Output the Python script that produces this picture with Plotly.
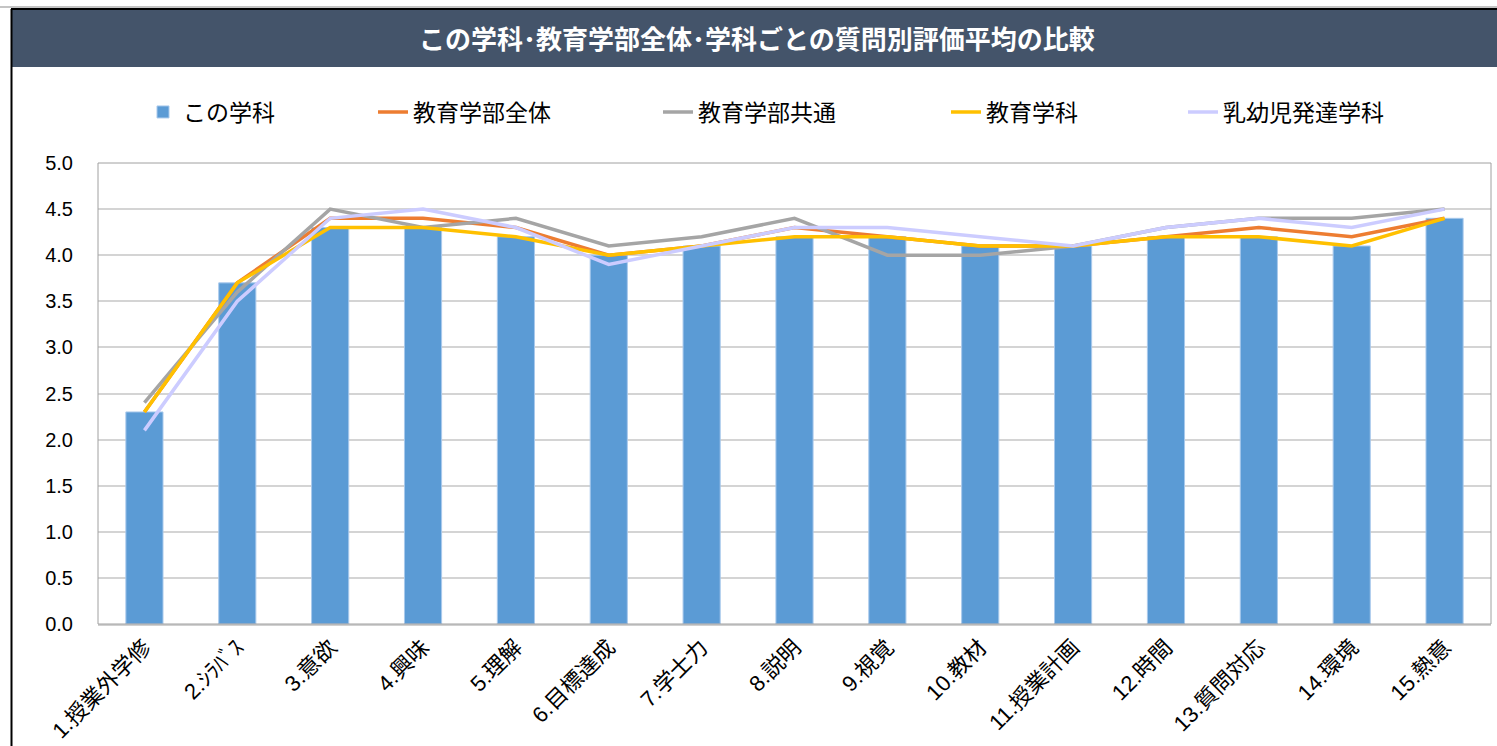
import plotly.graph_objects as go

categories = ["1.授業外学修", "2.ｼﾗﾊﾞｽ", "3.意欲", "4.興味", "5.理解", "6.目標達成", "7.学士力",
              "8.説明", "9.視覚", "10.教材", "11.授業計画", "12.時間", "13.質問対応", "14.環境", "15.熱意"]

this_dept = [2.3, 3.7, 4.3, 4.3, 4.2, 4.0, 4.1, 4.2, 4.2, 4.1, 4.1, 4.2, 4.2, 4.1, 4.4]
faculty_all = [2.3, 3.7, 4.4, 4.4, 4.3, 4.0, 4.1, 4.3, 4.2, 4.1, 4.1, 4.2, 4.3, 4.2, 4.4]
faculty_common = [2.4, 3.6, 4.5, 4.3, 4.4, 4.1, 4.2, 4.4, 4.0, 4.0, 4.1, 4.3, 4.4, 4.4, 4.5]
education = [2.3, 3.7, 4.3, 4.3, 4.2, 4.0, 4.1, 4.2, 4.2, 4.1, 4.1, 4.2, 4.2, 4.1, 4.4]
early_child = [2.1, 3.5, 4.4, 4.5, 4.3, 3.9, 4.1, 4.3, 4.3, 4.2, 4.1, 4.3, 4.4, 4.3, 4.5]

series_names = ["この学科", "教育学部全体", "教育学部共通", "教育学科", "乳幼児発達学科"]
y_ticks = [0.0, 0.5, 1.0, 1.5, 2.0, 2.5, 3.0, 3.5, 4.0, 4.5, 5.0]
title_text = "この学科･教育学部全体･学科ごとの質問別評価平均の比較"

W, H = 1497, 746
L, R, T, B = 98, 6, 163, 122
PW, PH = W - L - R, H - T - B

def px_x(px):
    return (px - L) / PW

def px_y(py):
    return (H - B - py) / PH

JP = "Noto Sans CJK JP"
fig = go.Figure()

fig.add_trace(go.Bar(
    x=categories, y=this_dept, name=series_names[0],
    marker=dict(color="#5B9BD5", line=dict(color="#a9c9ec", width=1)),
    legend="legend",
))

line_specs = [
    (faculty_all, series_names[1], "#ED7D31", "legend2"),
    (faculty_common, series_names[2], "#A5A5A5", "legend3"),
    (education, series_names[3], "#FFC000", "legend4"),
    (early_child, series_names[4], "#CCCCFF", "legend5"),
]
for vals, name, color, lg in line_specs:
    fig.add_trace(go.Scatter(
        x=categories, y=vals, name=name, mode="lines",
        line=dict(color=color, width=3.5),
        legend=lg,
    ))

text_starts = [185, 415, 700, 988, 1225]
legend_common = dict(orientation="h", yanchor="middle", xanchor="left",
                      bgcolor="rgba(0,0,0,0)", font=dict(family=JP, size=23, color="#000000"),
                      itemwidth=30)
legends = {}
for i, ts in enumerate(text_starts):
    key = "legend" if i == 0 else f"legend{i+1}"
    legends[key] = dict(legend_common, x=px_x(ts - 42), y=px_y(112))

shapes = [
    # title bar
    dict(type="rect", xref="paper", yref="paper", x0=px_x(11), x1=px_x(1500),
         y0=px_y(67), y1=px_y(9), fillcolor="#44546A", line=dict(width=0), layer="above"),
    # grey top line
    dict(type="line", xref="paper", yref="paper", x0=px_x(0), x1=px_x(1500),
         y0=px_y(7), y1=px_y(7), line=dict(color="#b0b0b0", width=1.5)),
    # black top border
    dict(type="line", xref="paper", yref="paper", x0=px_x(11), x1=px_x(1500),
         y0=px_y(9), y1=px_y(9), line=dict(color="#000000", width=2)),
    # black left border
    dict(type="line", xref="paper", yref="paper", x0=px_x(11.5), x1=px_x(11.5),
         y0=px_y(9), y1=px_y(760), line=dict(color="#000000", width=2)),
    # plot area border
    dict(type="rect", xref="paper", yref="paper", x0=0, x1=1, y0=0, y1=1,
         line=dict(color="#a0a0a0", width=1), layer="above"),
]

fig.update_layout(
    width=W, height=H,
    margin=dict(l=L, r=R, t=T, b=B, autoexpand=False),
    paper_bgcolor="#ffffff", plot_bgcolor="#ffffff",
    barmode="overlay", bargap=0.6,
    showlegend=True,
    shapes=shapes,
    annotations=[dict(text=title_text, xref="paper", yref="paper",
                      x=px_x(757), y=px_y(38), xanchor="center", yanchor="middle",
                      showarrow=False, font=dict(family=JP, size=26, color="#ffffff", weight="bold"))],
    xaxis=dict(type="category", tickangle=-45, showgrid=False, showline=True,
               linecolor="#d0d0d0", linewidth=1.5, ticks="",
               tickfont=dict(family="Liberation Sans, " + JP, size=22, color="#000000")),
    yaxis=dict(range=[0, 5], tickvals=y_ticks, tickformat=".1f", showgrid=True,
               gridcolor="#d4d4d4", gridwidth=1.5, zeroline=False, showline=False,
               ticks="", ticklabelstandoff=24,
               tickfont=dict(family="Liberation Sans", size=20, color="#000000")),
    **legends,
)

fig.write_html("out.html", config={"displayModeBar": False},
               post_script="document.body.style.margin='0px';document.body.style.overflow='hidden';")
